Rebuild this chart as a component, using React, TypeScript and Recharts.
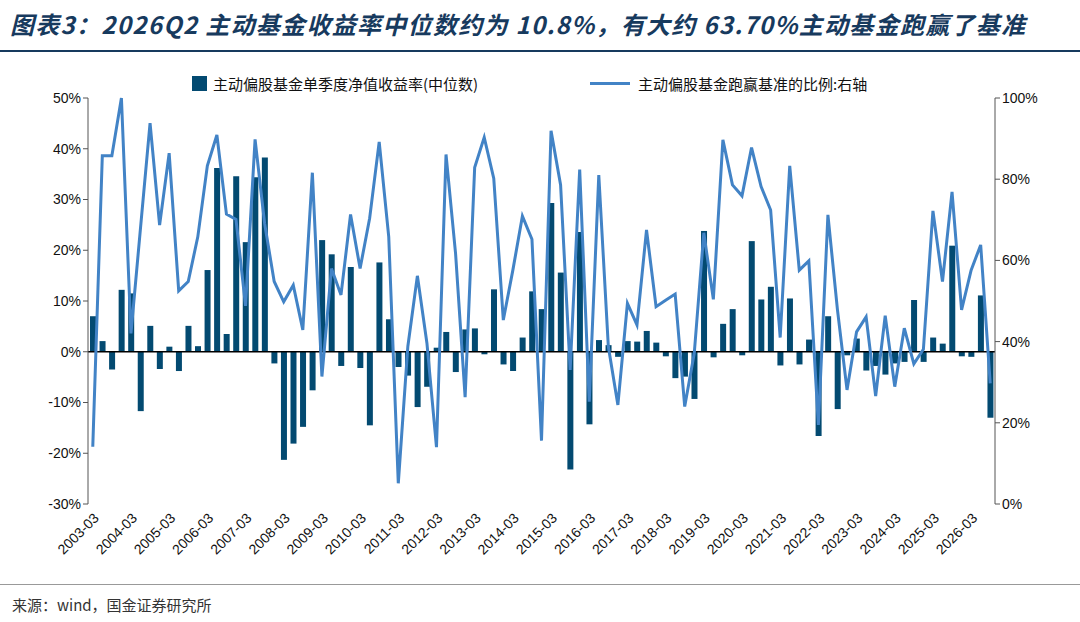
import React from 'react'
import { ComposedChart, Bar, Line, XAxis, YAxis, ReferenceLine } from 'recharts'

const barValues = [
  7.0, 2.1, -3.5, 12.2, 11.5, -11.7, 5.1, -3.4, 1.0, -3.8, 5.1, 1.1, 16.1, 36.2, 3.5, 34.6,
  21.6, 34.4, 38.3, -2.3, -21.3, -18.1, -14.8, -7.6, 22.0, 19.2, -2.8, 16.7, -3.2, -14.5, 17.6, 6.4,
  -3.0, -4.7, -10.9, -6.9, 0.8, 3.9, -4.0, 4.4, 4.6, -0.5, 12.3, -2.5, -3.8, 2.8, 11.9, 8.4,
  29.3, 15.6, -23.2, 23.6, -14.3, 2.3, 1.3, -1.0, 2.1, 2.0, 4.1, 1.8, -0.9, -5.2, -4.9, -9.3,
  23.8, -1.1, 5.5, 8.4, -0.7, 21.8, 10.3, 12.8, -2.7, 10.5, -2.5, 2.4, -16.6, 7.0, -11.3, -0.7,
  2.6, -3.7, -2.8, -4.5, -2.3, -2.0, 10.2, -2.0, 2.8, 1.6, 20.9, -0.9, -1.0, 11.1, -13.0,
]

const lineValues = [
  14.1, 85.8, 85.8, 100, 42, 68, 93.8, 68.7, 86.4, 52.5, 54.8, 65.8, 83.3, 90.9, 71.4, 70.1,
  48.8, 89.8, 69.1, 54.8, 49.8, 53.9, 42.9, 81.6, 31.4, 58, 51.5, 71.3, 58, 70.4, 89.2, 65.8,
  5.1, 38.8, 56.2, 39.6, 14, 86.1, 61.7, 26.3, 82.9, 90.3, 80.2, 45.3, 57.6, 70.9, 65.2, 15.6,
  91.9, 78.6, 33, 82.4, 25.2, 81, 38.8, 24.4, 49.4, 44.1, 67.5, 48.6, 50.2, 51.7, 24, 37.1,
  66.8, 50.4, 89.7, 78.6, 75.9, 87.8, 78.2, 72.4, 41, 83.3, 57.6, 59.9, 19.5, 71.2, 47.8, 28.1,
  42.4, 46.1, 26.6, 46.4, 28.9, 43.3, 34.5, 38.1, 72.2, 54.8, 76.9, 47.8, 57.6, 63.8, 29.7,
]

const months = ['03', '06', '09', '12']
const quarters = barValues.map((_, i) => `${2003 + Math.floor(i / 4)}-${months[i % 4]}`)

const leftTicks = [-30, -20, -10, 0, 10, 20, 30, 40, 50]
const rightTicks = [0, 20, 40, 60, 80, 100]

const data = quarters.map((q, i) => ({ q, ret: barValues[i], ratio: lineValues[i] }))

const BAR = '#034a71'
const LINE = '#4283c6'
const FONT = '"Noto Sans CJK SC", "Noto Sans", sans-serif'

const tickStyle = { fontSize: 14, fill: '#111', fontFamily: 'Liberation Sans, Arial, sans-serif' }

export default function App() {
  return (
    <div style={{ position: 'absolute', left: 0, top: 0, width: 1080, height: 622, background: '#fff', fontFamily: FONT }}>
      <div style={{ position: 'absolute', left: 10, top: 6, fontSize: 24, letterSpacing: 1.3, fontWeight: 700, fontStyle: 'italic', color: '#173a5e', whiteSpace: 'nowrap' }}>
        图表3：2026Q2 主动基金收益率中位数约为 10.8%，有大约 63.70%主动基金跑赢了基准
      </div>
      <div style={{ position: 'absolute', left: 0, top: 50, width: 1080, height: 2, background: '#173a5e' }} />
      <div style={{ position: 'absolute', left: 192, top: 73, display: 'flex', alignItems: 'center', fontSize: 15, color: '#111' }}>
        <span style={{ width: 15, height: 15, background: BAR, marginRight: 6 }} />
        主动偏股基金单季度净值收益率(中位数)
      </div>
      <div style={{ position: 'absolute', left: 590, top: 73, display: 'flex', alignItems: 'center', fontSize: 15, color: '#111' }}>
        <span style={{ width: 40, height: 3, background: LINE, marginRight: 8 }} />
        主动偏股基金跑赢基准的比例:右轴
      </div>
      <ComposedChart width={1080} height={575} data={data} margin={{ top: 98, right: 15, bottom: 0, left: 28 }} barSize={6}>
        <XAxis dataKey="q" interval={3} angle={-45} textAnchor="end" height={71} tick={tickStyle} axisLine={false} tickLine={false} />
        <YAxis yAxisId="l" domain={[-30, 50]} ticks={leftTicks} width={60} tick={tickStyle} tickFormatter={v => `${v}%`} stroke="#555" tickSize={5} />
        <YAxis yAxisId="r" orientation="right" domain={[0, 100]} ticks={rightTicks} width={70} tick={tickStyle} tickFormatter={v => `${v}%`} stroke="#555" tickSize={5} />
        <Bar yAxisId="l" dataKey="ret" fill={BAR} isAnimationActive={false} />
        <ReferenceLine yAxisId="l" y={0} stroke="#000" strokeWidth={1.5} />
        <Line yAxisId="r" dataKey="ratio" stroke={LINE} strokeWidth={3} dot={false} type="linear" isAnimationActive={false} />
      </ComposedChart>
      <div style={{ position: 'absolute', left: 0, top: 584, width: 1080, height: 1, background: '#999' }} />
      <div style={{ position: 'absolute', left: 12, top: 594, fontSize: 15, color: '#333' }}>
        来源：wind，国金证券研究所
      </div>
    </div>
  )
}
